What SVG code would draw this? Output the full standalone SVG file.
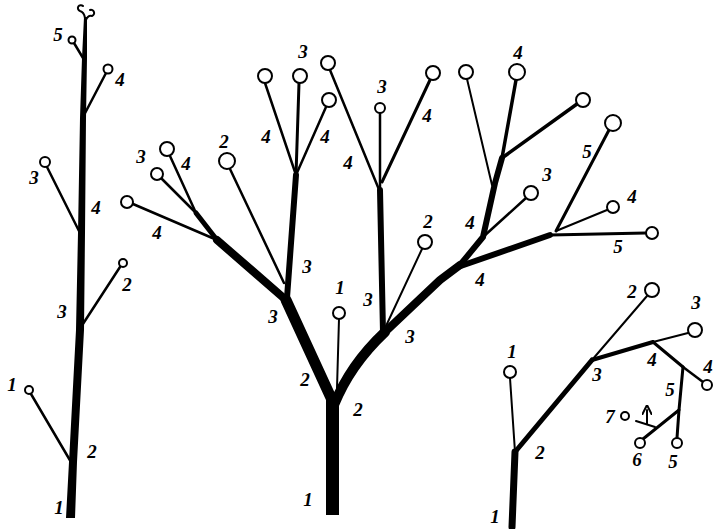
<svg xmlns="http://www.w3.org/2000/svg" width="714" height="529" viewBox="0 0 714 529">
<style>
.b{stroke:#000;fill:none;stroke-linecap:round;stroke-linejoin:round}
.n{fill:#fff;stroke:#000;stroke-width:2}
text{font-family:"Liberation Serif",serif;font-style:italic;font-weight:bold;font-size:19px;text-anchor:middle;fill:#000}
</style>
<defs>
<marker id="ah" viewBox="0 0 10 10" refX="5" refY="5" markerWidth="5" markerHeight="5" orient="auto"><path d="M0,0 L10,5 L0,10" fill="none" stroke="#000" stroke-width="2"/></marker>
</defs>
<rect width="714" height="529" fill="#fff"/>
<g id="connectors">
<!-- Tree A -->
<polygon points="66,518 69,462 76,330 78,233 80,118 82,58 84,17 87,17 87,58 86,118 85,233 84,330 77,462 75,518" fill="#000"/>
<g class="b" stroke-width="2.5">
<line x1="71" y1="462" x2="31" y2="394"/>
<line x1="79" y1="330" x2="120" y2="267"/>
<line x1="80" y1="233" x2="47" y2="167"/>
<line x1="83" y1="117" x2="106" y2="73"/>
<line x1="83" y1="58" x2="74" y2="43"/>
<path d="M85,18 Q84,12 80,11 A3,3 0 1 1 83,6" stroke-width="2"/>
<path d="M86,20 Q88,15 92,16 A3,3 0 1 0 90,10" stroke-width="2"/>
</g>
<!-- Tree B -->
<rect x="326" y="393" width="13" height="122" fill="#000"/>
<g class="b">
<path d="M332,400 L286,300" stroke-width="11"/>
<path d="M286,300 L217,240" stroke-width="8"/>
<path d="M217,240 L196,213" stroke-width="5"/>
<path d="M287,298 L296,175" stroke-width="6"/>
<path d="M296,175 L265,83" stroke-width="2.5"/>
<path d="M296,175 L299,83" stroke-width="3"/>
<path d="M296,175 L326,107" stroke-width="2.5"/>
<path d="M284,283 L230,169" stroke-width="2.5"/>
<path d="M217,240 L133,204" stroke-width="2.5"/>
<path d="M196,213 L161,178" stroke-width="2.5"/>
<path d="M196,213 L170,156" stroke-width="2.5"/>
<path d="M337,388 L339,319" stroke-width="2"/>
<path d="M334,405 Q350,365 385,332" stroke-width="10"/>
<path d="M385,332 L440,280 L460,265" stroke-width="8"/>
<path d="M383,332 L380,190" stroke-width="6"/>
<path d="M380,190 L380,113" stroke-width="2.5"/>
<path d="M380,192 L330,70" stroke-width="2.5"/>
<path d="M382,182 L430,80" stroke-width="3"/>
<path d="M386,326 L422,249" stroke-width="2"/>
<path d="M460,265 L483,237 L495,183 L502,158" stroke-width="6"/>
<path d="M502,158 L516,80" stroke-width="3.5"/>
<path d="M492,185 L467,79" stroke-width="2"/>
<path d="M502,158 L577,104" stroke-width="3.5"/>
<path d="M483,237 L526,198" stroke-width="2.5"/>
<path d="M455,268 L550,235" stroke-width="6"/>
<path d="M550,235 L646,233" stroke-width="3"/>
<path d="M556,231 L609,130" stroke-width="3"/>
<path d="M556,231 L607,210" stroke-width="2"/>
</g>
<!-- Tree C -->
<g class="b">
<path d="M512,527 L515,452" stroke-width="7"/>
<path d="M515,452 L510,378" stroke-width="2"/>
<path d="M515,452 L592,360" stroke-width="5"/>
<path d="M592,360 L647,296" stroke-width="2"/>
<path d="M592,360 L653,342" stroke-width="4"/>
<path d="M653,342 L688,333" stroke-width="2"/>
<path d="M653,342 L683,367" stroke-width="3"/>
<path d="M683,367 L703,382" stroke-width="2.5"/>
<path d="M683,367 L679,410 L677,438" stroke-width="3"/>
<path d="M679,410 L643,439" stroke-width="3"/>
<path d="M636,421 L655,427" stroke-width="2"/>
<path d="M647,424 L647,410" stroke-width="2" marker-end="url(#ah)"/>
</g>
</g>
<g id="nodes">
<g id="treeA">
<circle class="n" cx="29" cy="390" r="4"/>
<circle class="n" cx="123" cy="263" r="4"/>
<circle class="n" cx="45" cy="162" r="5"/>
<circle class="n" cx="108" cy="69" r="4.5"/>
<circle class="n" cx="72" cy="40" r="3.5"/>
</g>
<g id="treeB">
<circle class="n" cx="265" cy="76" r="7"/>
<circle class="n" cx="300" cy="76" r="7"/>
<circle class="n" cx="329" cy="100" r="7"/>
<circle class="n" cx="227" cy="161" r="8"/>
<circle class="n" cx="157" cy="174" r="6"/>
<circle class="n" cx="167" cy="149" r="7"/>
<circle class="n" cx="127" cy="202" r="6"/>
<circle class="n" cx="339" cy="313" r="6"/>
<circle class="n" cx="328" cy="63" r="7"/>
<circle class="n" cx="380" cy="108" r="5"/>
<circle class="n" cx="433" cy="73" r="7"/>
<circle class="n" cx="425" cy="242" r="7"/>
<circle class="n" cx="517" cy="72" r="8"/>
<circle class="n" cx="466" cy="72" r="7"/>
<circle class="n" cx="583" cy="100" r="7"/>
<circle class="n" cx="531" cy="193" r="7"/>
<circle class="n" cx="652" cy="233" r="6"/>
<circle class="n" cx="613" cy="123" r="8"/>
<circle class="n" cx="613" cy="207" r="6"/>
</g>
<g id="treeC">
<circle class="n" cx="510" cy="372" r="6"/>
<circle class="n" cx="652" cy="290" r="7"/>
<circle class="n" cx="695" cy="330" r="7"/>
<circle class="n" cx="707" cy="385" r="5"/>
<circle class="n" cx="677" cy="443" r="5"/>
<circle class="n" cx="640" cy="443" r="5"/>
<circle class="n" cx="625" cy="416" r="4"/>
</g>
</g>
<g id="labels">
<text x="58" y="41">5</text>
<text x="120" y="86">4</text>
<text x="34" y="184">3</text>
<text x="96" y="214">4</text>
<text x="62" y="318">3</text>
<text x="127" y="291">2</text>
<text x="12" y="391">1</text>
<text x="92" y="458">2</text>
<text x="59" y="514">1</text>
<text x="141" y="163">3</text>
<text x="186" y="170">4</text>
<text x="224" y="148">2</text>
<text x="157" y="239">4</text>
<text x="266" y="143">4</text>
<text x="325" y="143">4</text>
<text x="303" y="58">3</text>
<text x="307" y="273">3</text>
<text x="273" y="323">3</text>
<text x="340" y="294">1</text>
<text x="305" y="386">2</text>
<text x="358" y="416">2</text>
<text x="308" y="506">1</text>
<text x="348" y="169">4</text>
<text x="382" y="93">3</text>
<text x="427" y="122">4</text>
<text x="428" y="228">2</text>
<text x="368" y="306">3</text>
<text x="410" y="343">3</text>
<text x="480" y="286">4</text>
<text x="470" y="229">4</text>
<text x="518" y="59">4</text>
<text x="547" y="181">3</text>
<text x="587" y="158">5</text>
<text x="632" y="203">4</text>
<text x="618" y="253">5</text>
<text x="512" y="358">1</text>
<text x="495" y="523">1</text>
<text x="540" y="459">2</text>
<text x="597" y="381">3</text>
<text x="632" y="298">2</text>
<text x="696" y="309">3</text>
<text x="652" y="366">4</text>
<text x="708" y="373">4</text>
<text x="670" y="396">5</text>
<text x="610" y="423">7</text>
<text x="637" y="466">6</text>
<text x="673" y="468">5</text>
</g>
</svg>
